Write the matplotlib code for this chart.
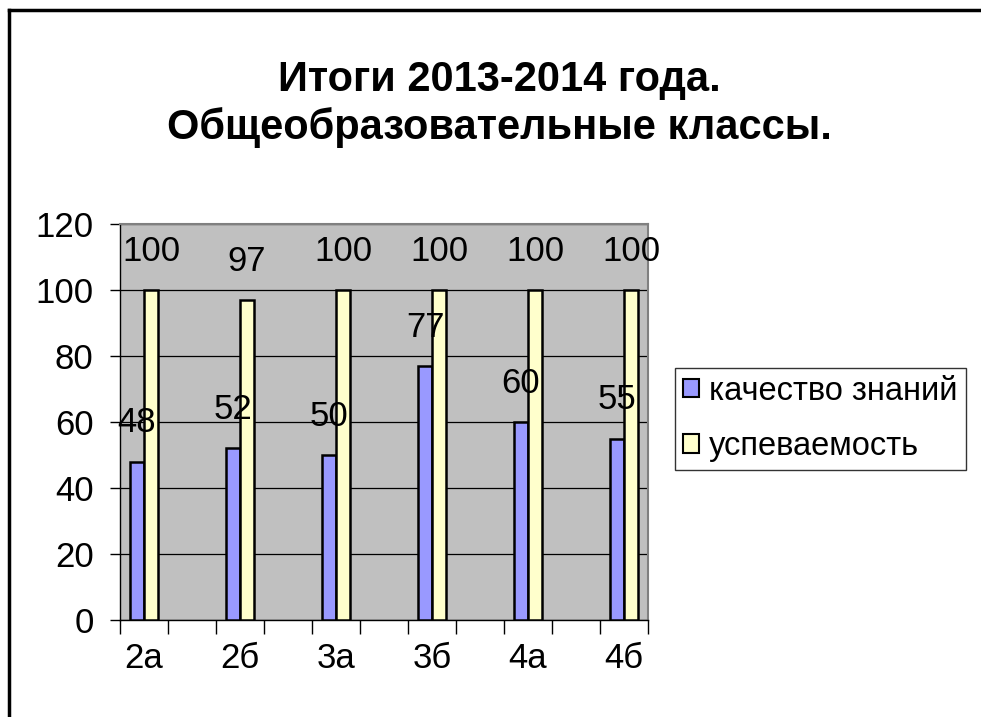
import numpy as np
import matplotlib.pyplot as plt
from matplotlib.patches import Patch
from matplotlib.lines import Line2D

plt.rcParams['font.family'] = ['Liberation Sans', 'DejaVu Sans']

classes = ['2а', '2б', '3а', '3б', '4а', '4б']
quality = [48, 52, 50, 77, 60, 55]        # качество знаний
progress = [100, 97, 100, 100, 100, 100]  # успеваемость

fig = plt.figure(figsize=(9.81, 7.17), dpi=100)
ax = fig.add_axes([120/981, 1-620/717, 528/981, 396/717])
ax.set_facecolor('#C0C0C0')

# category slots: data in every other slot (11 slots total)
x = np.arange(len(classes)) * 2
w = 0.29
b1 = ax.bar(x - w/2, quality, w, color='#9999FF', edgecolor='black', lw=1.8, zorder=3)
b2 = ax.bar(x + w/2, progress, w, color='#FFFFCC', edgecolor='black', lw=1.8, zorder=3)

for bars, vals in ((b1, quality), (b2, progress)):
    for r, v in zip(bars, vals):
        ax.annotate(str(v), (r.get_x() + r.get_width()/2, v), xytext=(0, 28),
                    textcoords='offset points', ha='center', va='center',
                    fontsize=25, zorder=4)

ax.set_ylim(0, 120)
ax.set_yticks(range(0, 121, 20))
ax.yaxis.grid(True, color='black', lw=0.9, zorder=1)
ax.tick_params(axis='y', labelsize=25, length=7, width=1, pad=12, direction='out')

ax.set_xlim(-0.5, 2*len(classes) - 1.5)
ax.set_xticks(np.arange(-0.5, 2*len(classes) - 1, 1))
ax.set_xticklabels([])
ax.tick_params(axis='x', which='major', length=10, width=1, direction='out')
ax.set_xticks(x, minor=True)
ax.set_xticklabels(classes, minor=True)
ax.tick_params(axis='x', which='minor', length=0, labelsize=25, pad=16)

for s in ('top', 'right'):
    ax.spines[s].set_color('#808080')
    ax.spines[s].set_linewidth(1.5)
for s in ('left', 'bottom'):
    ax.spines[s].set_color('black')
    ax.spines[s].set_linewidth(1)

fig.text(0.509, 1-80/717, 'Итоги 2013-2014 года.', ha='center', va='center',
         fontsize=30, fontweight='bold')
fig.text(0.509, 1-128/717, 'Общеобразовательные классы.', ha='center', va='center',
         fontsize=30, fontweight='bold')

handles = [Patch(facecolor='#9999FF', edgecolor='black', lw=1.5, label='качество знаний'),
           Patch(facecolor='#FFFFCC', edgecolor='black', lw=1.5, label='успеваемость')]
leg = fig.legend(handles=handles, loc='center left', bbox_to_anchor=(675/981, 1-419/717),
                 fontsize=23.5, frameon=True, fancybox=False, handlelength=0.5,
                 handleheight=0.5, handletextpad=0.3, labelspacing=0.75,
                 borderpad=0.25, borderaxespad=0)
leg.get_frame().set_edgecolor('black')
leg.get_frame().set_linewidth(1)

# outer frame (only left and top edges visible)
fig.add_artist(Line2D([9/981, 9/981], [0, 1-10/717], color='black', lw=2.5))
fig.add_artist(Line2D([9/981, 1], [1-10/717, 1-10/717], color='black', lw=2.5))

fig.savefig('out.png', dpi=100)
